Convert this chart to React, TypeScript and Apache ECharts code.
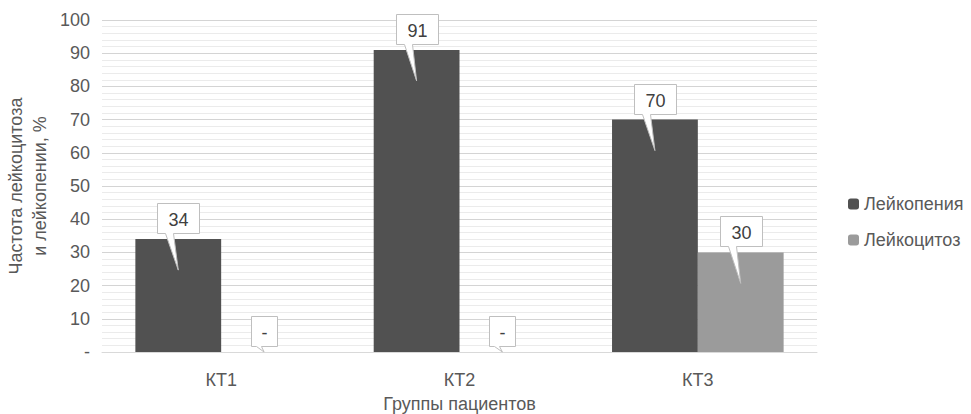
import React, { useEffect, useRef } from "react";
import * as echarts from "echarts";

const categories = ["КТ1", "КТ2", "КТ3"];
const seriesNames = ["Лейкопения", "Лейкоцитоз"];
const leukopenia = [34, 91, 70];
const leukocytosis = [0, 0, 30];
const yTicks = { min: 0, max: 100, interval: 10 };
const colors = ["#515151", "#9b9b9b"];

const GAP = 0.28;
const FONT = "'Liberation Sans', Arial, sans-serif";

function makeCallout(seriesIdx: number) {
  return (params: any, api: any) => {
    const ci = api.value(0);
    const v = api.value(1);
    const band = api.size([1, 0])[0];
    const barW = (band * (1 - GAP)) / 2;
    const center = api.coord([ci, v]);
    const base = api.coord([ci, 0]);
    const x = center[0] + (seriesIdx === 0 ? -barW / 2 : barW / 2);
    const top = center[1];
    const barH = base[1] - top;
    const text = v === 0 ? "-" : String(v);
    const w = 10 + 16 * text.length;
    const h = 30;
    const left = Math.round(x - w / 2) + 0.5;
    const bottom = Math.round(top - 6) + 0.5;
    const tipY = top + Math.min(31, barH);
    const bl = text.length === 1 ? 5 : 8;
    const br = text.length === 1 ? 10 : 16;
    const pts = [
      [left, bottom - h],
      [left + w, bottom - h],
      [left + w, bottom],
      [left + br, bottom],
      [x, tipY],
      [left + bl, bottom],
      [left, bottom],
    ];
    return {
      type: "group",
      children: [
        {
          type: "polygon",
          shape: { points: pts },
          style: { fill: "#ffffff", stroke: "#bfbfbf", lineWidth: 1 },
        },
        {
          type: "text",
          x: left + w / 2,
          y: bottom - h / 2 + 1,
          style: {
            text,
            fill: "#404040",
            font: "18px " + FONT,
            align: "center",
            verticalAlign: "middle",
          },
        },
      ],
    };
  };
}

export default function App() {
  const ref = useRef<HTMLDivElement>(null);
  useEffect(() => {
    if (!ref.current) return;
    const chart = echarts.init(ref.current, undefined, { renderer: "svg" });
    const values = [leukopenia, leukocytosis];
    chart.setOption({
      animation: false,
      textStyle: { fontFamily: FONT },
      grid: {
        left: 102,
        right: 154,
        top: 20,
        bottom: 62,
        containLabel: false,
        outerBoundsMode: "none",
      },
      legend: {
        orient: "vertical",
        left: 843,
        top: 190,
        itemWidth: 11,
        itemHeight: 11,
        itemGap: 18,
        data: seriesNames,
        textStyle: { fontSize: 18, color: "#595959", fontFamily: FONT },
      },
      xAxis: {
        type: "category",
        data: categories,
        name: "Группы пациентов",
        nameLocation: "middle",
        nameGap: 43,
        nameTextStyle: { fontSize: 18, color: "#595959", fontFamily: FONT },
        axisLine: { lineStyle: { color: "#d9d9d9" } },
        axisTick: { show: false },
        axisLabel: { fontSize: 18, color: "#595959", margin: 19, fontFamily: FONT },
      },
      yAxis: {
        type: "value",
        min: yTicks.min,
        max: yTicks.max,
        interval: yTicks.interval,
        name: "Частота лейкоцитоза\nи лейкопении, %",
        nameLocation: "middle",
        nameGap: 50,
        nameMoveOverlap: false,
        nameTextStyle: { fontSize: 18, color: "#595959", lineHeight: 24, fontFamily: FONT },
        axisLine: { show: false },
        axisTick: { show: false },
        axisLabel: {
          fontSize: 18,
          color: "#595959",
          margin: 12,
          fontFamily: FONT,
          formatter: (v: number) => (v === 0 ? "-" : String(v)),
        },
        splitLine: { lineStyle: { color: "#d4d4d4" } },
        minorTick: { show: false, splitNumber: 5 },
        minorSplitLine: { show: true, lineStyle: { color: "#ebebeb" } },
      },
      series: [
        ...seriesNames.map((name, i) => ({
          name,
          type: "bar",
          data: values[i],
          barGap: "0%",
          barCategoryGap: GAP * 100 + "%",
          itemStyle: { color: colors[i] },
        })),
        ...seriesNames.map((name, i) => ({
          name: name + " callout",
          type: "custom",
          renderItem: makeCallout(i),
          data: values[i].map((v, ci) => [ci, v]),
          encode: { x: 0, y: 1 },
          z: 10,
          clip: false,
        })),
      ],
    });
    return () => chart.dispose();
  }, []);
  return <div ref={ref} style={{ width: 971, height: 414, position: "absolute", left: 0, top: 0 }} />;
}
